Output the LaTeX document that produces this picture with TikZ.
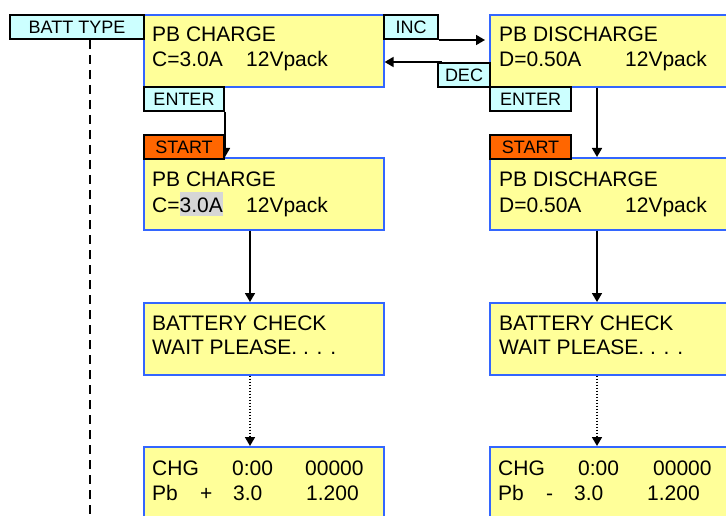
\documentclass[tikz,border=0pt]{standalone}
\usepackage{fontspec}
\setmainfont{Liberation Sans}
\usepackage{xcolor}
\usetikzlibrary{arrows.meta}
\definecolor{lcdyellow}{HTML}{FFFF99}
\definecolor{lcdblue}{HTML}{3366FF}
\definecolor{keycyan}{HTML}{CCFFFF}
\definecolor{startorange}{HTML}{FF6600}
\definecolor{hlgray}{HTML}{D6D6D6}
\setlength{\fboxsep}{0pt}

\begin{document}
\begin{tikzpicture}[x=1pt,y=-1pt,>={Triangle[length=9pt,width=10pt]},
  lcd/.style={draw=lcdblue,fill=lcdyellow,line width=1.6pt,minimum width=240pt,minimum height=72pt,anchor=north west,inner sep=0pt},
  key/.style={draw=black,fill=keycyan,line width=2pt,minimum height=24pt,anchor=north west,inner sep=0pt,font=\fontsize{18}{21}\selectfont},
  startkey/.style={key,fill=startorange,minimum width=80pt},
  lcdtext/.style={anchor=base west,inner sep=0pt,font=\fontsize{21}{25}\selectfont},
  flow/.style={->,line width=1.7pt}]
  \useasboundingbox (0,0) rectangle (726,516);
  \clip (0,0) rectangle (726,516);
  % lcd screens
  \node[lcd] (chgset) at (143,14) {};
  \node[lcd] (dchset) at (489,14) {};
  \node[lcd] (chgrun) at (143,157) {};
  \node[lcd] (dchrun) at (489,157) {};
  \node[lcd] (chkc) at (143,302) {};
  \node[lcd] (chkd) at (489,302) {};
  \node[lcd] (statc) at (143,446) {};
  \node[lcd] (statd) at (489,446) {};
  % screen texts
  \node[lcdtext] (t1) at (152,42) {PB CHARGE};
  \node[lcdtext] (t2) at (152,67) {\makebox[94pt][l]{C=3.0A}12Vpack};
  \node[lcdtext] (t3) at (499,42) {PB DISCHARGE};
  \node[lcdtext] (t4) at (499,67) {\makebox[126pt][l]{D=0.50A}12Vpack};
  \node[lcdtext] (t5) at (152,186) {PB CHARGE};
  \node[lcdtext] (t6) at (152,212) {\makebox[94pt][l]{C=\colorbox{hlgray}{\rule[-4pt]{0pt}{24pt}3.0A}}12Vpack};
  \node[lcdtext] (t7) at (499,186) {PB DISCHARGE};
  \node[lcdtext] (t8) at (499,212) {\makebox[126pt][l]{D=0.50A}12Vpack};
  \node[lcdtext] (t9) at (152,330) {BATTERY CHECK};
  \node[lcdtext] (t10) at (152,354) {WAIT PLEASE. . . .};
  \node[lcdtext] (t11) at (499,330) {BATTERY CHECK};
  \node[lcdtext] (t12) at (499,354) {WAIT PLEASE. . . .};
  \node[lcdtext] (t13) at (152,475) {\makebox[80pt][l]{CHG}\makebox[73pt][l]{0:00}00000};
  \node[lcdtext] (t14) at (152,500) {\makebox[48pt][l]{Pb}\makebox[33pt][l]{+}\makebox[73pt][l]{3.0}1.200};
  \node[lcdtext] (t15) at (498,475) {\makebox[80pt][l]{CHG}\makebox[75pt][l]{0:00}00000};
  \node[lcdtext] (t16) at (498,500) {\makebox[48pt][l]{Pb}\makebox[28pt][l]{-}\makebox[73pt][l]{3.0}1.200};
  % keys
  \node[key,minimum width=134pt] (batt) at (9,14) {BATT TYPE};
  \node[key,minimum width=54pt] (inc) at (383,14) {INC};
  \node[key,minimum width=52pt] (dec) at (437,62) {DEC};
  \node[key,minimum width=80pt] (enterc) at (143,86) {ENTER};
  \node[key,minimum width=81pt] (enterd) at (489,86) {ENTER};
  % arrows
  \coordinate (battend) at (90,516);
  \draw[line width=2pt,dash pattern=on 9pt off 6pt] (batt.south -| battend) -- (battend);
  \draw[flow,shorten >=4pt] (inc.south east) -- (inc.south east -| dchset.west);
  \draw[flow,shorten <=-5pt] (dec.north west) -- (dec.north west -| chgset.east);
  \draw[flow] (enterc.south east) -- (enterc.south east |- chgrun.north);
  \draw[flow] ([xshift=108pt]dchset.south west) -- ([xshift=108pt]dchrun.north west);
  \draw[flow] ([xshift=107pt]chgrun.south west) -- ([xshift=107pt]chkc.north west);
  \draw[flow] ([xshift=108pt]dchrun.south west) -- ([xshift=108pt]chkd.north west);
  \draw[flow,dash pattern=on 1.5pt off 1.5pt] ([xshift=107pt]chkc.south west) -- ([xshift=107pt]statc.north west);
  \draw[flow,dash pattern=on 1.5pt off 1.5pt] ([xshift=108pt]chkd.south west) -- ([xshift=108pt]statd.north west);
  \node[startkey] (startc) at (143,134) {START};
  \node[startkey,minimum width=81pt] (startd) at (489,134) {START};
\end{tikzpicture}
\end{document}
